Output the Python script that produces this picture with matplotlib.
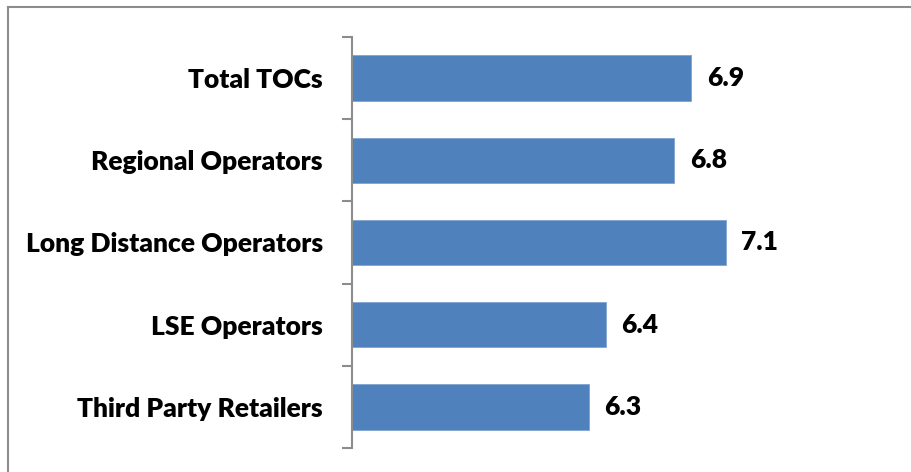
import matplotlib.pyplot as plt
from matplotlib.lines import Line2D

categories = ["Total TOCs", "Regional Operators", "Long Distance Operators",
              "LSE Operators", "Third Party Retailers"]
scores = [6.9, 6.8, 7.1, 6.4, 6.3]

plt.rcParams['font.family'] = ['Lato', 'DejaVu Sans']

fig = plt.figure(figsize=(9.11, 4.72), dpi=100)
ax = fig.add_axes([352 / 911, 1 - 448 / 472, 540 / 911, 411 / 472])

ypos = list(range(len(categories)))
ax.barh(ypos, scores, height=0.55, left=0, color='#4F81BD',
        edgecolor='#7FA3D0', linewidth=0.6)

ax.set_xlim(4.92, 8.07)
ax.set_ylim(len(categories) - 0.5, -0.5)

for y, v in zip(ypos, scores):
    ax.text(v + 0.09, y, f"{v:.1f}", va='center', ha='left',
            fontsize=19, fontweight='heavy')

ax.set_yticks(ypos)
ax.set_yticklabels(categories, fontsize=19, fontweight='heavy')
ax.tick_params(axis='y', which='major', length=0, pad=21)
ax.set_yticks([i - 0.5 for i in range(len(categories) + 1)], minor=True)
ax.tick_params(axis='y', which='minor', length=7, width=1.5, color='#8C8C8C')
ax.set_xticks([])

for side in ['top', 'right', 'bottom']:
    ax.spines[side].set_visible(False)
ax.spines['left'].set_color('#8C8C8C')
ax.spines['left'].set_linewidth(1.5)

# outer chart frame (left and top edges)
fig.add_artist(Line2D([8 / 911, 8 / 911], [0, 1 - 7 / 472],
                      transform=fig.transFigure, color='#8C8C8C', lw=1.5))
fig.add_artist(Line2D([8 / 911, 1], [1 - 7 / 472, 1 - 7 / 472],
                      transform=fig.transFigure, color='#8C8C8C', lw=1.5))

fig.savefig('out.png', dpi=100)
